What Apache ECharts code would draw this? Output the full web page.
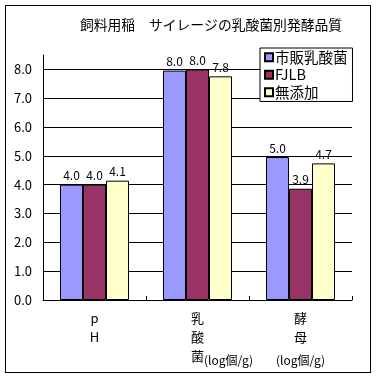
<!DOCTYPE html>
<html>
<head>
<meta charset="utf-8">
<script src="https://cdn.jsdelivr.net/npm/echarts@6/dist/echarts.min.js"></script>
<style>
  body { margin: 0; background: #fff; }
  #wrap { position: relative; width: 377px; height: 378px; }
  #frame { position: absolute; left: 5px; top: 5px; width: 364px; height: 366px; border: 1px solid #000; }
  #main { position: absolute; left: 0; top: 0; width: 377px; height: 378px; }
</style>
</head>
<body>
<div id="wrap">
  <div id="frame"></div>
  <div id="main"></div>
</div>
<script>
var categories = ["pH", "乳酸菌", "酵母"];
var seriesNames = ["市販乳酸菌", "FJLB", "無添加"];
var commercial = [4.0, 7.96, 4.96];
var fjlb = [4.0, 8.0, 3.86];
var noAdd = [4.14, 7.76, 4.74];
var colors = ["#9999FF", "#993366", "#FFFFCC"];

var chart = echarts.init(document.getElementById("main"), null, { renderer: "canvas" });
var font = "'Noto Sans CJK JP', sans-serif";

function bar(name, data, color) {
  return {
    name: name,
    type: "bar",
    data: data,
    barGap: "0%",
    barCategoryGap: "33%",
    itemStyle: { color: color, borderColor: "#000", borderWidth: 1 },
    label: {
      show: true,
      position: "top",
      distance: 3,
      color: "#000",
      fontSize: 12,
      fontFamily: font,
      formatter: function (p) { return p.value.toFixed(1); }
    }
  };
}

var option = {
  animation: false,
  title: {
    text: "飼料用稲\u3000サイレージの乳酸菌別発酵品質",
    left: 206,
    textAlign: "center",
    top: 13,
    textStyle: { fontSize: 13.8, fontWeight: "normal", color: "#000", fontFamily: font }
  },
  legend: {
    data: seriesNames,
    orient: "vertical",
    left: 260,
    top: 48,
    backgroundColor: "#fff",
    borderColor: "#000",
    borderWidth: 1,
    padding: [2, 5, 2, 4],
    itemGap: 3,
    itemWidth: 8,
    itemHeight: 8,
    icon: "rect",
    textStyle: { fontSize: 14.5, color: "#000", fontFamily: font, padding: [0, 0, 0, -3] }
  },
  grid: { left: 43, right: 25, top: 55, bottom: 78 },
  xAxis: {
    type: "category",
    data: categories,
    axisLine: { lineStyle: { color: "#000" } },
    axisTick: { show: true, inside: true, length: 4, lineStyle: { color: "#000" } },
    axisLabel: {
      interval: 0,
      hideOverlap: false,
      margin: 9,
      color: "#000",
      fontSize: 13,
      lineHeight: 19,
      fontFamily: font,
      formatter: function (v) {
        if (v === "pH") return "p\nH";
        if (v === "乳酸菌") return "乳\n酸\n{h|(log個/g)}菌{s|(log個/g)}";
        return "酵\n母\n{s|(log個/g)}";
      },
      rich: {
        s: { fontSize: 12, fontFamily: font, color: "#000", verticalAlign: "bottom", lineHeight: 19 },
        h: { fontSize: 12, fontFamily: font, color: "rgba(0,0,0,0)", lineHeight: 19 }
      }
    }
  },
  yAxis: {
    type: "value",
    min: 0,
    max: 8.5,
    interval: 1,
    axisLine: { show: true, lineStyle: { color: "#000" } },
    axisTick: { show: false },
    splitLine: { show: true, showMaxLine: false, lineStyle: { color: "#000", width: 1 } },
    axisLabel: {
      margin: 11,
      color: "#000",
      fontSize: 13,
      fontFamily: font,
      showMaxLabel: false,
      formatter: function (v) { return v === 8.5 ? "" : v.toFixed(1); }
    }
  },
  series: [
    bar(seriesNames[0], commercial, colors[0]),
    bar(seriesNames[1], fjlb, colors[1]),
    bar(seriesNames[2], noAdd, colors[2])
  ]
};

chart.setOption(option);
</script>
</body>
</html>
